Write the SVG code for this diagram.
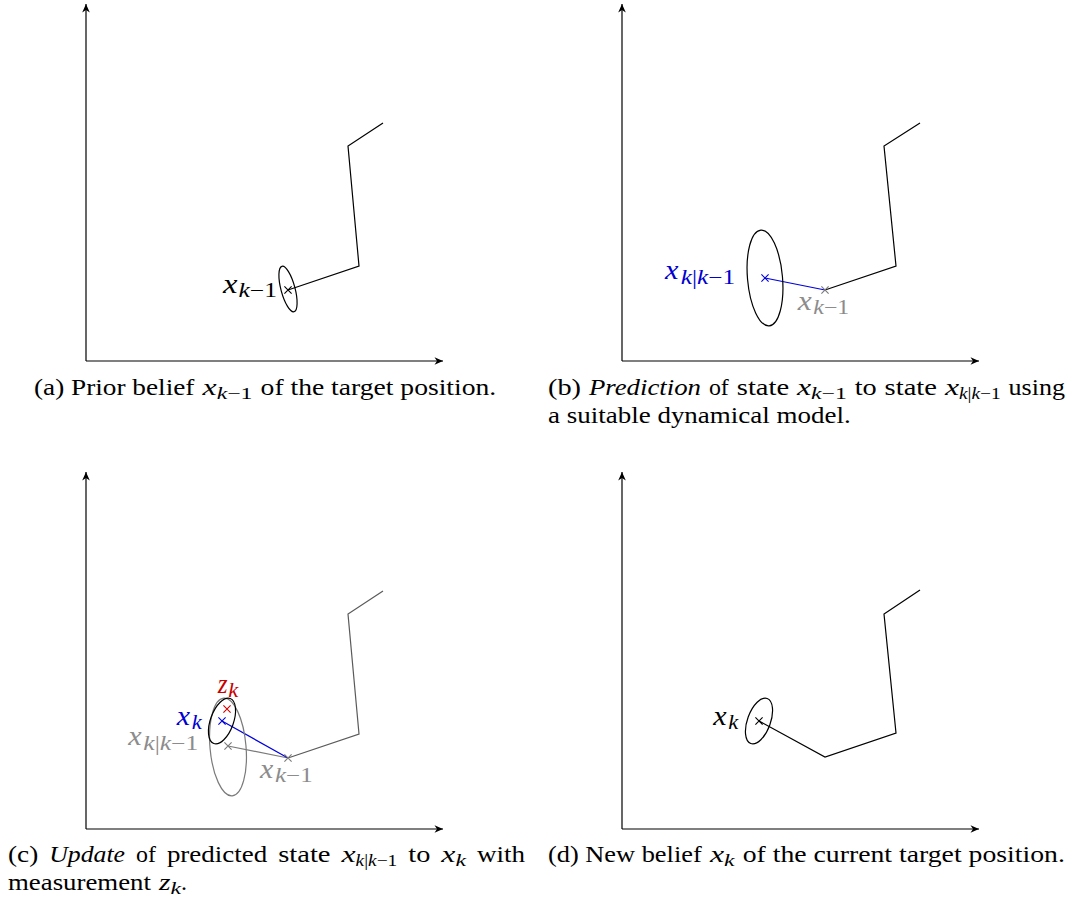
<svg xmlns="http://www.w3.org/2000/svg" width="1073" height="901" viewBox="0 0 1073 901">
<style>
.ax{stroke:#000;stroke-width:1.2;fill:none}
.ln{stroke-width:1.2;fill:none;stroke-linejoin:miter}
.el{stroke-width:1.2;fill:none}
.cr{stroke-width:1.1;fill:none}
.cap{font-family:'Liberation Serif','DejaVu Serif','Noto Serif',serif;font-size:24px;fill:#000}
.it{font-style:italic}
.csub{font-size:17px}
.lbl{font-family:'Liberation Serif','DejaVu Serif','Noto Serif',serif;font-size:28px}
.lsub{font-size:20px}
.k{stroke:#000}
.g{stroke:#7a7a7a}
.dg{stroke:#5a5a5a}
.b{stroke:#0000e0}
.r{stroke:#d00000}
.tk{fill:#000}
.tg{fill:#8c8c8c}
.tb{fill:#0000d0}
.tr{fill:#c80000}
</style>
<defs>
<marker id="arr" viewBox="-9 -5 10 10" refX="0" refY="0" markerWidth="10" markerHeight="10" markerUnits="userSpaceOnUse" orient="auto">
<path d="M0,0 L-8.5,-3.8 L-6,0 L-8.5,3.8 Z" fill="#000"/>
</marker>
<path id="xm" d="M-3.6,-3.6 L3.6,3.6 M-3.6,3.6 L3.6,-3.6"/>
</defs>

<g id="axes">
<path class="ax" d="M86,361 V4" marker-end="url(#arr)"/>
<path class="ax" d="M86,361 H443" marker-end="url(#arr)"/>
<path class="ax" d="M622,361 V4" marker-end="url(#arr)"/>
<path class="ax" d="M622,361 H979" marker-end="url(#arr)"/>
<path class="ax" d="M86,829 V472" marker-end="url(#arr)"/>
<path class="ax" d="M86,829 H443" marker-end="url(#arr)"/>
<path class="ax" d="M622,829 V472" marker-end="url(#arr)"/>
<path class="ax" d="M622,829 H979" marker-end="url(#arr)"/>
</g>

<g id="connectors">
<polyline class="ln k" points="288,290 359,266 348,146 383,123"/>
<polyline class="ln k" points="825,290 896,266 884,146 920,123"/>
<line class="ln b" x1="765" y1="278" x2="825" y2="290"/>
<polyline class="ln dg" points="288,758 359,734 348,614 383,591"/>
<line class="ln g" x1="228" y1="746" x2="288" y2="758"/>
<line class="ln b" x1="222" y1="721" x2="288" y2="758"/>
<polyline class="ln k" points="759,721 825,757 896,733 884,614 920,590"/>
</g>

<g id="panel-a">
<g id="a-belief">
<ellipse class="el k" cx="288" cy="289" rx="7" ry="23.5" transform="rotate(-15 288 289)"/>
<use href="#xm" class="cr k" x="288" y="290"/>
<text class="lbl it tk" x="223" y="293" textLength="14.5" lengthAdjust="spacingAndGlyphs">x</text>
<text class="lbl lsub tk" x="238.5" y="297" textLength="38.5" lengthAdjust="spacingAndGlyphs"><tspan class="it">k</tspan>−1</text>
</g>
<g id="a-caption">
<text class="cap" x="34" y="395" textLength="160.4" lengthAdjust="spacingAndGlyphs">(a) Prior belief</text>
<text class="cap it" x="202.6" y="395" textLength="14.1" lengthAdjust="spacingAndGlyphs">x</text>
<text class="cap csub" x="216.7" y="399" textLength="35.7" lengthAdjust="spacingAndGlyphs"><tspan class="it">k</tspan>−1</text>
<text class="cap" x="260.6" y="395" textLength="235.6" lengthAdjust="spacingAndGlyphs">of the target position.</text>
</g>
</g>

<g id="panel-b">
<g id="b-prediction">
<ellipse class="el k" cx="765" cy="278" rx="17.5" ry="48" transform="rotate(-5 765 278)"/>
<use href="#xm" class="cr b" x="765" y="278"/>
<text class="lbl it tb" x="665" y="279" textLength="13.5" lengthAdjust="spacingAndGlyphs">x</text>
<text class="lbl lsub tb" x="680.7" y="284" textLength="54.3" lengthAdjust="spacingAndGlyphs"><tspan class="it">k</tspan>|<tspan class="it">k</tspan>−1</text>
</g>
<g id="b-prior">
<use href="#xm" class="cr g" x="825" y="290"/>
<text class="lbl it tg" x="797.7" y="310" textLength="14" lengthAdjust="spacingAndGlyphs">x</text>
<text class="lbl lsub tg" x="813.3" y="314.3" textLength="36" lengthAdjust="spacingAndGlyphs"><tspan class="it">k</tspan>−1</text>
</g>
<g id="b-caption">
<text class="cap" x="548" y="395" textLength="33" lengthAdjust="spacingAndGlyphs">(b)</text>
<text class="cap it" x="588.9" y="395" textLength="112.1" lengthAdjust="spacingAndGlyphs">Prediction</text>
<text class="cap" x="708.9" y="395" textLength="19.9" lengthAdjust="spacingAndGlyphs">of</text>
<text class="cap" x="736.8" y="395" textLength="52.3" lengthAdjust="spacingAndGlyphs">state</text>
<text class="cap it" x="797" y="395" textLength="14.1" lengthAdjust="spacingAndGlyphs">x</text>
<text class="cap csub" x="811.1" y="399" textLength="35.7" lengthAdjust="spacingAndGlyphs"><tspan class="it">k</tspan>−1</text>
<text class="cap" x="854.7" y="395" textLength="22" lengthAdjust="spacingAndGlyphs">to</text>
<text class="cap" x="884.6" y="395" textLength="52.3" lengthAdjust="spacingAndGlyphs">state</text>
<text class="cap it" x="944.9" y="395" textLength="14.1" lengthAdjust="spacingAndGlyphs">x</text>
<text class="cap csub" x="959" y="399" textLength="41.7" lengthAdjust="spacingAndGlyphs"><tspan class="it">k</tspan>|<tspan class="it">k</tspan>−1</text>
<text class="cap" x="1008.6" y="395" textLength="56.4" lengthAdjust="spacingAndGlyphs">using</text>
<text class="cap" x="548" y="423" textLength="302.7" lengthAdjust="spacingAndGlyphs">a suitable dynamical model.</text>
</g>
</g>

<g id="panel-c">
<g id="c-predicted">
<ellipse class="el g" cx="228" cy="747" rx="18" ry="49" transform="rotate(-5 228 747)"/>
<use href="#xm" class="cr g" x="228" y="746"/>
<text class="lbl it tg" x="128.3" y="745" textLength="13.4" lengthAdjust="spacingAndGlyphs">x</text>
<text class="lbl lsub tg" x="143.3" y="750" textLength="55" lengthAdjust="spacingAndGlyphs"><tspan class="it">k</tspan>|<tspan class="it">k</tspan>−1</text>
</g>
<g id="c-prior">
<use href="#xm" class="cr g" x="288" y="758"/>
<text class="lbl it tg" x="260" y="778" textLength="13.3" lengthAdjust="spacingAndGlyphs">x</text>
<text class="lbl lsub tg" x="275" y="781.5" textLength="37.7" lengthAdjust="spacingAndGlyphs"><tspan class="it">k</tspan>−1</text>
</g>
<g id="c-updated">
<ellipse class="el k" cx="222" cy="721" rx="11.5" ry="24" transform="rotate(20 222 721)"/>
<use href="#xm" class="cr b" x="222" y="721"/>
<text class="lbl it tb" x="176.7" y="725" textLength="13.3" lengthAdjust="spacingAndGlyphs">x</text>
<text class="lbl lsub it tb" x="191.7" y="728.5" textLength="10" lengthAdjust="spacingAndGlyphs">k</text>
</g>
<g id="c-measurement">
<use href="#xm" class="cr r" x="227" y="709"/>
<text class="lbl it tr" x="217.7" y="693" textLength="9.8" lengthAdjust="spacingAndGlyphs">z</text>
<text class="lbl lsub it tr" x="228.3" y="696.5" textLength="10" lengthAdjust="spacingAndGlyphs">k</text>
</g>
<g id="c-caption">
<text class="cap" x="8" y="862" textLength="30.2" lengthAdjust="spacingAndGlyphs">(c)</text>
<text class="cap it" x="49.2" y="862" textLength="75.8" lengthAdjust="spacingAndGlyphs">Update</text>
<text class="cap" x="136" y="862" textLength="19.9" lengthAdjust="spacingAndGlyphs">of</text>
<text class="cap" x="166.9" y="862" textLength="100.3" lengthAdjust="spacingAndGlyphs">predicted</text>
<text class="cap" x="278.2" y="862" textLength="52.3" lengthAdjust="spacingAndGlyphs">state</text>
<text class="cap it" x="341.5" y="862" textLength="14.1" lengthAdjust="spacingAndGlyphs">x</text>
<text class="cap csub" x="355.6" y="866" textLength="41.7" lengthAdjust="spacingAndGlyphs"><tspan class="it">k</tspan>|<tspan class="it">k</tspan>−1</text>
<text class="cap" x="408.3" y="862" textLength="22" lengthAdjust="spacingAndGlyphs">to</text>
<text class="cap it" x="441.3" y="862" textLength="14.1" lengthAdjust="spacingAndGlyphs">x</text>
<text class="cap csub it" x="455.4" y="866" textLength="10.5" lengthAdjust="spacingAndGlyphs">k</text>
<text class="cap" x="476.9" y="862" textLength="48" lengthAdjust="spacingAndGlyphs">with</text>
<text class="cap" x="8" y="890" textLength="142.9" lengthAdjust="spacingAndGlyphs">measurement</text>
<text class="cap it" x="159.1" y="890" textLength="11.5" lengthAdjust="spacingAndGlyphs">z</text>
<text class="cap csub it" x="170.6" y="894" textLength="10.5" lengthAdjust="spacingAndGlyphs">k</text>
<text class="cap" x="181.1" y="890">.</text>
</g>
</g>

<g id="panel-d">
<g id="d-belief">
<ellipse class="el k" cx="759" cy="721" rx="11.5" ry="24" transform="rotate(20 759 721)"/>
<use href="#xm" class="cr k" x="759" y="721"/>
<text class="lbl it tk" x="713.3" y="725" textLength="13.4" lengthAdjust="spacingAndGlyphs">x</text>
<text class="lbl lsub it tk" x="728.3" y="728.5" textLength="10" lengthAdjust="spacingAndGlyphs">k</text>
</g>
<g id="d-caption">
<text class="cap" x="548" y="862" textLength="153.7" lengthAdjust="spacingAndGlyphs">(d) New belief</text>
<text class="cap it" x="709.9" y="862" textLength="14.1" lengthAdjust="spacingAndGlyphs">x</text>
<text class="cap csub it" x="724" y="866" textLength="10.5" lengthAdjust="spacingAndGlyphs">k</text>
<text class="cap" x="742.7" y="862" textLength="322.2" lengthAdjust="spacingAndGlyphs">of the current target position.</text>
</g>
</g>
</svg>
